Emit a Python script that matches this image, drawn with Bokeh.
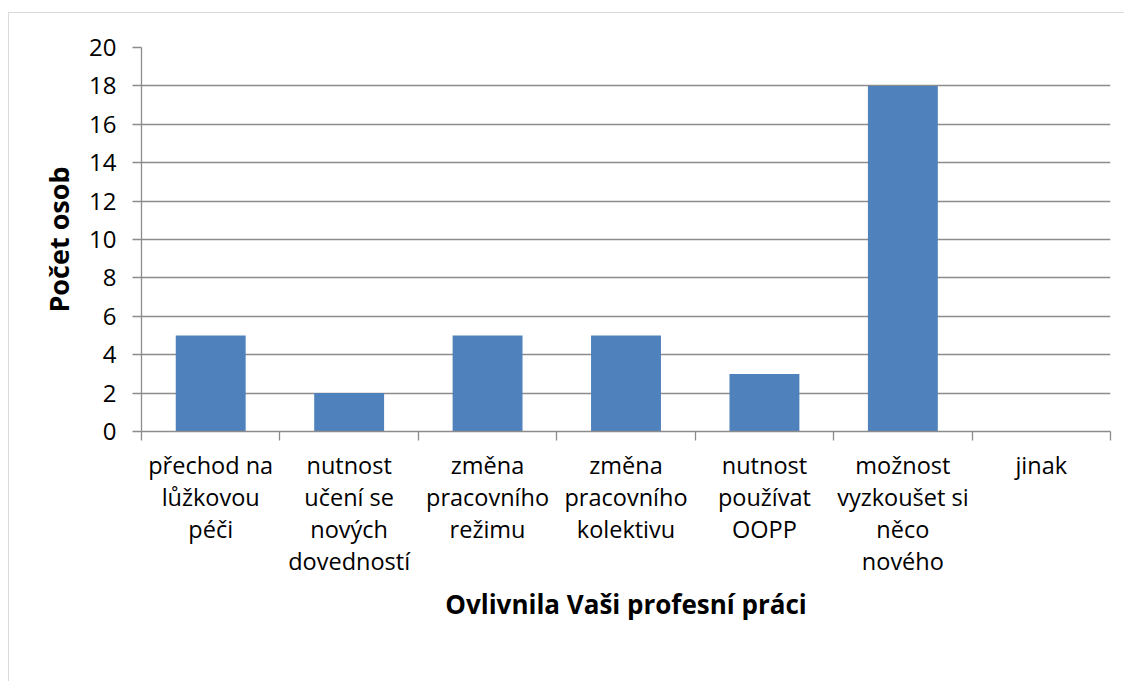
from bokeh.plotting import figure
from bokeh.models import FixedTicker, Range1d
from bokeh.embed import file_html
from bokeh.resources import INLINE

categories = [
    "přechod na\nlůžkovou\npéči",
    "nutnost\nučení se\nnových\ndovedností",
    "změna\npracovního\nrežimu",
    "změna\npracovního\nkolektivu",
    "nutnost\npoužívat\nOOPP",
    "možnost\nvyzkoušet si\nněco\nnového",
    "jinak",
]
values = [5, 2, 5, 5, 3, 18, 0]
y_ticks = [0, 2, 4, 6, 8, 10, 12, 14, 16, 18, 20]
y_label = "Počet osob"
x_label = "Ovlivnila Vaši profesní práci"

FONT = "Open Sans"
GRID = "#8c8c8c"

n = len(categories)
x_centers = [i + 0.5 for i in range(n)]
x_bounds = [float(i) for i in range(n + 1)]

p = figure(
    frame_width=969, frame_height=384,
    min_border_left=132, min_border_top=34, min_border_right=14, min_border_bottom=250,
    x_range=Range1d(0, n), y_range=Range1d(0, y_ticks[-1]),
    output_backend="svg", toolbar_location=None,
)
p.margin = (12, 0, 0, 8)
p.styles = {"border-top": "1px solid #d9d9d9", "border-left": "1px solid #d9d9d9"}
p.outline_line_color = None
p.background_fill_color = "white"
p.border_fill_color = "white"

p.vbar(x=x_centers, top=values, width=0.505, fill_color="#4F81BD", line_color=None)

# y axis
ya = p.yaxis[0]
ya.ticker = FixedTicker(ticks=y_ticks)
ya.axis_line_color = GRID
ya.axis_line_width = 1.3
ya.major_tick_line_color = GRID
ya.major_tick_line_width = 1.3
ya.major_tick_out = 9
ya.major_tick_in = 0
ya.minor_tick_line_color = None
ya.major_label_text_font = FONT
ya.major_label_text_font_size = "24px"
ya.major_label_text_color = "black"
ya.major_label_standoff = 16
ya.axis_label = y_label
ya.axis_label_text_font = FONT
ya.axis_label_text_font_size = "27px"
ya.axis_label_text_font_style = "bold"
ya.axis_label_text_color = "black"
ya.axis_label_standoff = 9

# x axis
xa = p.xaxis[0]
xa.ticker = FixedTicker(ticks=x_centers, minor_ticks=x_bounds)
xa.major_label_overrides = {x: c for x, c in zip(x_centers, categories)}
xa.axis_line_color = GRID
xa.axis_line_width = 1.3
xa.major_tick_line_color = None
xa.major_tick_out = 0
xa.major_tick_in = 0
xa.minor_tick_line_color = GRID
xa.minor_tick_line_width = 1.3
xa.minor_tick_out = 9
xa.minor_tick_in = 0
xa.major_label_text_font = FONT
xa.major_label_text_font_size = "23.5px"
xa.major_label_text_color = "black"
xa.major_label_text_line_height = 1.0
xa.major_label_standoff = 8
xa.axis_label = x_label
xa.axis_label_text_font = FONT
xa.axis_label_text_font_size = "26px"
xa.axis_label_text_font_style = "bold"
xa.axis_label_text_color = "black"
xa.axis_label_standoff = 6

p.xgrid.grid_line_color = None
p.ygrid.ticker = FixedTicker(ticks=y_ticks)
p.ygrid.grid_line_color = GRID
p.ygrid.grid_line_width = 1.3

open("out.html", "w").write(file_html(p, INLINE))
